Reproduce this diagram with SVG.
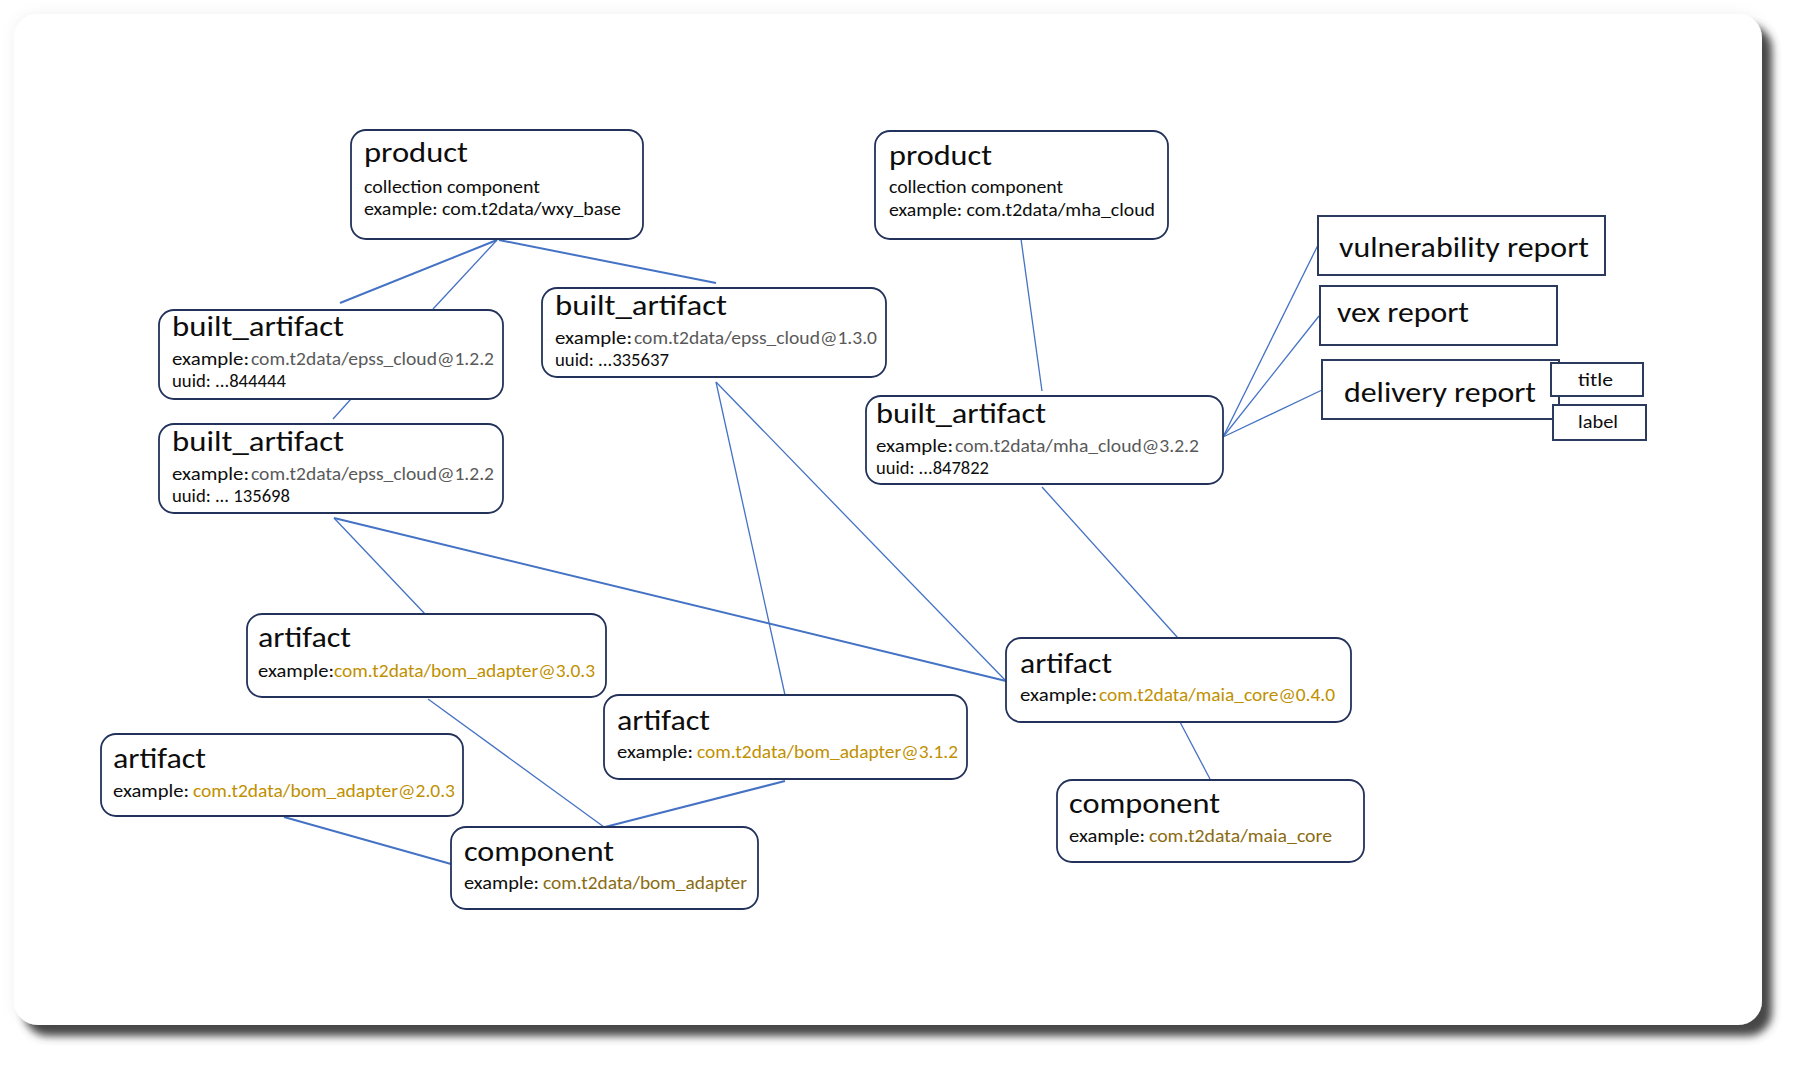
<svg xmlns="http://www.w3.org/2000/svg" width="1800" height="1065" viewBox="0 0 1800 1065">
<defs>
<filter id="cardShadow" x="-5%" y="-5%" width="110%" height="115%">
<feGaussianBlur in="SourceAlpha" stdDeviation="4" result="b1"/>
<feOffset in="b1" dx="10" dy="11" result="o1"/>
<feFlood flood-color="#3c3c3c" flood-opacity="0.95"/>
<feComposite in2="o1" operator="in" result="s1"/>
<feGaussianBlur in="SourceAlpha" stdDeviation="7" result="b2"/>
<feFlood flood-color="#000" flood-opacity="0.06"/>
<feComposite in2="b2" operator="in" result="s2"/>
<feMerge><feMergeNode in="s2"/><feMergeNode in="s1"/><feMergeNode in="SourceGraphic"/></feMerge>
</filter>
<style>
text{font-family:Carlito,"Liberation Sans",Arial,sans-serif;fill:#0d0d0d}
.t{font-size:28px}
.s{font-size:18px}
.r{font-size:28px}
.m{font-size:18px;text-anchor:start}
.g{fill:#595959}
.y{fill:#BF9000}
.o{fill:#8A6B12}
.node{fill:#fff;stroke:#23325a;stroke-width:1.8}
.box{fill:#fff;stroke:#2c3a5e;stroke-width:2}
.c{stroke:#4472C4;stroke-width:1.3;fill:none}
.c2{stroke:#4472C4;stroke-width:2;fill:none}
</style>
</defs>
<rect x="0" y="0" width="1800" height="1065" fill="#fff"/>
<rect x="14" y="14" width="1748" height="1011" rx="24" fill="#fff" filter="url(#cardShadow)"/>

<g id="connectors">
<line class="c2" x1="497" y1="240" x2="340" y2="303"/>
<line class="c" x1="497" y1="240" x2="433" y2="309"/>
<line class="c2" x1="499" y1="240" x2="716" y2="283"/>
<line class="c" x1="351" y1="399" x2="333" y2="419"/>
<line class="c" x1="334" y1="518" x2="425" y2="614"/>
<line class="c2" x1="334" y1="518" x2="1006" y2="681"/>
<line class="c" x1="716" y1="382" x2="785" y2="695"/>
<line class="c" x1="716" y1="382" x2="1006" y2="681"/>
<line class="c" x1="1042" y1="487" x2="1178" y2="638"/>
<line class="c" x1="1021" y1="239" x2="1042" y2="391"/>
<line class="c" x1="1223" y1="437" x2="1318" y2="245"/>
<line class="c" x1="1223" y1="437" x2="1319" y2="316"/>
<line class="c" x1="1223" y1="437" x2="1322" y2="390"/>
<line class="c" x1="1180" y1="722" x2="1210" y2="779"/>
<line class="c" x1="428" y1="699" x2="604" y2="827"/>
<line class="c2" x1="785" y1="781" x2="605" y2="827"/>
<line class="c2" x1="284" y1="817" x2="451" y2="864"/>
</g>

<g id="product1">
<rect class="node" x="351" y="130" width="292" height="109" rx="15"/>
<text class="t" x="364" y="162" textLength="104" lengthAdjust="spacingAndGlyphs">product</text>
<text class="s" x="364" y="193" textLength="176" lengthAdjust="spacingAndGlyphs">collection component</text>
<text class="s" x="364" y="215" textLength="257" lengthAdjust="spacingAndGlyphs">example: com.t2data/wxy_base</text>
</g>

<g id="product2">
<rect class="node" x="875" y="131" width="293" height="108" rx="15"/>
<text class="t" x="889" y="165" textLength="103" lengthAdjust="spacingAndGlyphs">product</text>
<text class="s" x="889" y="193" textLength="174" lengthAdjust="spacingAndGlyphs">collection component</text>
<text class="s" x="889" y="216" textLength="266" lengthAdjust="spacingAndGlyphs">example: com.t2data/mha_cloud</text>
</g>

<g id="built_artifact_a">
<rect class="node" x="159" y="310" width="344" height="89" rx="15"/>
<text class="t" x="172" y="336" textLength="172" lengthAdjust="spacingAndGlyphs">built_artifact</text>
<text class="s" x="172" y="365" textLength="77" lengthAdjust="spacingAndGlyphs">example:</text>
<text class="s g" x="251" y="365" textLength="243" lengthAdjust="spacingAndGlyphs">com.t2data/epss_cloud@1.2.2</text>
<text class="s" x="172" y="387" textLength="114" lengthAdjust="spacingAndGlyphs">uuid: ...844444</text>
</g>

<g id="built_artifact_b">
<rect class="node" x="159" y="424" width="344" height="89" rx="15"/>
<text class="t" x="172" y="451" textLength="172" lengthAdjust="spacingAndGlyphs">built_artifact</text>
<text class="s" x="172" y="480" textLength="77" lengthAdjust="spacingAndGlyphs">example:</text>
<text class="s g" x="251" y="480" textLength="243" lengthAdjust="spacingAndGlyphs">com.t2data/epss_cloud@1.2.2</text>
<text class="s" x="172" y="502" textLength="118" lengthAdjust="spacingAndGlyphs">uuid: ... 135698</text>
</g>

<g id="built_artifact_c">
<rect class="node" x="542" y="288" width="344" height="89" rx="15"/>
<text class="t" x="555" y="315" textLength="172" lengthAdjust="spacingAndGlyphs">built_artifact</text>
<text class="s" x="555" y="344" textLength="77" lengthAdjust="spacingAndGlyphs">example:</text>
<text class="s g" x="634" y="344" textLength="243" lengthAdjust="spacingAndGlyphs">com.t2data/epss_cloud@1.3.0</text>
<text class="s" x="555" y="366" textLength="114" lengthAdjust="spacingAndGlyphs">uuid: ...335637</text>
</g>

<g id="built_artifact_d">
<rect class="node" x="866" y="396" width="357" height="88" rx="15"/>
<text class="t" x="876" y="423" textLength="170" lengthAdjust="spacingAndGlyphs">built_artifact</text>
<text class="s" x="876" y="452" textLength="77" lengthAdjust="spacingAndGlyphs">example:</text>
<text class="s g" x="955" y="452" textLength="244" lengthAdjust="spacingAndGlyphs">com.t2data/mha_cloud@3.2.2</text>
<text class="s" x="876" y="474" textLength="113" lengthAdjust="spacingAndGlyphs">uuid: ...847822</text>
</g>

<g id="vulnerability_report">
<rect class="box" x="1318" y="216" width="287" height="59"/>
<text class="r" x="1339" y="257" textLength="250" lengthAdjust="spacingAndGlyphs">vulnerability report</text>
</g>

<g id="vex_report">
<rect class="box" x="1320" y="286" width="237" height="59"/>
<text class="r" x="1337" y="322" textLength="132" lengthAdjust="spacingAndGlyphs">vex report</text>
</g>

<g id="delivery_report">
<rect class="box" x="1322" y="360" width="237" height="59"/>
<text class="r" x="1344" y="402" textLength="192" lengthAdjust="spacingAndGlyphs">delivery report</text>
</g>

<g id="title_box">
<rect class="box" x="1551" y="363" width="92" height="33"/>
<text class="m" x="1578" y="386" textLength="35" lengthAdjust="spacingAndGlyphs">title</text>
</g>

<g id="label_box">
<rect class="box" x="1553" y="405" width="93" height="35"/>
<text class="m" x="1578" y="428" textLength="40" lengthAdjust="spacingAndGlyphs">label</text>
</g>

<g id="artifact_303">
<rect class="node" x="247" y="614" width="359" height="83" rx="15"/>
<text class="t" x="258" y="647" textLength="93" lengthAdjust="spacingAndGlyphs">artifact</text>
<text class="s" x="258" y="677" textLength="76" lengthAdjust="spacingAndGlyphs">example:</text>
<text class="s y" x="334" y="677" textLength="261" lengthAdjust="spacingAndGlyphs">com.t2data/bom_adapter@3.0.3</text>
</g>

<g id="artifact_203">
<rect class="node" x="101" y="734" width="362" height="82" rx="15"/>
<text class="t" x="113" y="768" textLength="93" lengthAdjust="spacingAndGlyphs">artifact</text>
<text class="s" x="113" y="797" textLength="76" lengthAdjust="spacingAndGlyphs">example:</text>
<text class="s y" x="193" y="797" textLength="262" lengthAdjust="spacingAndGlyphs">com.t2data/bom_adapter@2.0.3</text>
</g>

<g id="artifact_312">
<rect class="node" x="604" y="695" width="363" height="84" rx="15"/>
<text class="t" x="617" y="730" textLength="93" lengthAdjust="spacingAndGlyphs">artifact</text>
<text class="s" x="617" y="758" textLength="76" lengthAdjust="spacingAndGlyphs">example:</text>
<text class="s y" x="697" y="758" textLength="261" lengthAdjust="spacingAndGlyphs">com.t2data/bom_adapter@3.1.2</text>
</g>

<g id="component_bom_adapter">
<rect class="node" x="451" y="827" width="307" height="82" rx="15"/>
<text class="t" x="464" y="861" textLength="150" lengthAdjust="spacingAndGlyphs">component</text>
<text class="s" x="464" y="889" textLength="75" lengthAdjust="spacingAndGlyphs">example:</text>
<text class="s o" x="543" y="889" textLength="204" lengthAdjust="spacingAndGlyphs">com.t2data/bom_adapter</text>
</g>

<g id="artifact_maia">
<rect class="node" x="1006" y="638" width="345" height="84" rx="15"/>
<text class="t" x="1020" y="673" textLength="92" lengthAdjust="spacingAndGlyphs">artifact</text>
<text class="s" x="1020" y="701" textLength="77" lengthAdjust="spacingAndGlyphs">example:</text>
<text class="s y" x="1099" y="701" textLength="236" lengthAdjust="spacingAndGlyphs">com.t2data/maia_core@0.4.0</text>
</g>

<g id="component_maia">
<rect class="node" x="1057" y="780" width="307" height="82" rx="15"/>
<text class="t" x="1069" y="813" textLength="151" lengthAdjust="spacingAndGlyphs">component</text>
<text class="s" x="1069" y="842" textLength="76" lengthAdjust="spacingAndGlyphs">example:</text>
<text class="s o" x="1149" y="842" textLength="183" lengthAdjust="spacingAndGlyphs">com.t2data/maia_core</text>
</g>
</svg>
